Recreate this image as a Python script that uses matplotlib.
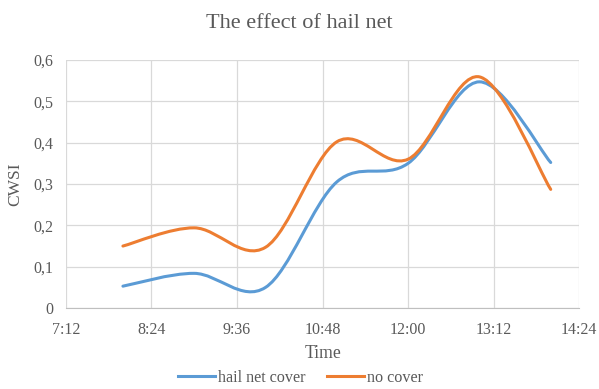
import numpy as np
import matplotlib.pyplot as plt
from matplotlib.path import Path
from matplotlib.patches import PathPatch
from matplotlib.lines import Line2D

plt.rcParams['font.family'] = ['Liberation Serif', 'DejaVu Serif']

# measurement times and CWSI values
times = ["8:00", "9:00", "10:00", "11:00", "12:00", "13:00", "14:00"]
hail_net = [0.053, 0.084, 0.05, 0.305, 0.35, 0.547, 0.352]
no_cover = [0.15, 0.194, 0.147, 0.402, 0.36, 0.559, 0.287]
xtick_labels = ["7:12", "8:24", "9:36", "10:48", "12:00", "13:12", "14:24"]
ytick_labels = ["0", "0,1", "0,2", "0,3", "0,4", "0,5", "0,6"]

def to_hours(s):
    h, m = s.split(":")
    return int(h) + int(m) / 60

def smooth_path(x, y):
    # Excel-like smoothed line: cubic bezier segments through the points
    pts = np.column_stack([x, y])
    verts = [pts[0]]
    codes = [Path.MOVETO]
    n = len(pts)
    for i in range(n - 1):
        p0 = pts[i - 1] if i > 0 else pts[i]
        p1 = pts[i]
        p2 = pts[i + 1]
        p3 = pts[i + 2] if i + 2 < n else pts[i + 1]
        c1 = p1 + (p2 - p0) / 6
        c2 = p2 - (p3 - p1) / 6
        verts += [c1, c2, p2]
        codes += [Path.CURVE4] * 3
    return Path(verts, codes)

x = [to_hours(t) for t in times]
blue = "#5B9BD5"
orange = "#ED7D31"
grey = "#595959"

fig = plt.figure(figsize=(5.99, 3.89), dpi=100)
ax = fig.add_axes([0.110, 0.208, 0.857, 0.638])

for vals, col in [(hail_net, blue), (no_cover, orange)]:
    ax.add_patch(PathPatch(smooth_path(x, vals), facecolor="none",
                           edgecolor=col, lw=2.2, capstyle="round"))

xt = [to_hours(t) for t in xtick_labels]
ax.set_xlim(xt[0], xt[-1])
ax.set_ylim(0, 0.6)
ax.set_xticks(xt)
ax.set_xticklabels(xtick_labels)
ax.set_yticks(np.arange(0, 0.61, 0.1))
ax.set_yticklabels(ytick_labels)
ax.grid(True, color="#D9D9D9", lw=0.9)
ax.set_axisbelow(True)
for s in ["top", "right", "left"]:
    ax.spines[s].set_visible(False)
ax.spines["bottom"].set_color("#BFBFBF")
ax.tick_params(length=0, labelsize=11.5, colors=grey)
ax.tick_params(axis="x", pad=10)
ax.tick_params(axis="y", pad=9)

ax.set_xlabel("Time", fontsize=12.7, color=grey, labelpad=5)
ax.set_ylabel("CWSI", fontsize=12.5, color=grey, va="center")
ax.yaxis.set_label_coords(-0.099, 0.5)
fig.suptitle("The effect of hail net", fontsize=16, color=grey, y=0.965)

handles = [Line2D([], [], color=blue, lw=2.2), Line2D([], [], color=orange, lw=2.2)]
fig.legend(handles, ["hail net cover", "no cover"], loc="center",
           bbox_to_anchor=(0.502, 0.028), ncol=2, frameon=False, fontsize=11.6,
           handlelength=2.3, handletextpad=0.2, columnspacing=1.3,
           labelcolor=grey)

fig.savefig("out.png", dpi=100)
